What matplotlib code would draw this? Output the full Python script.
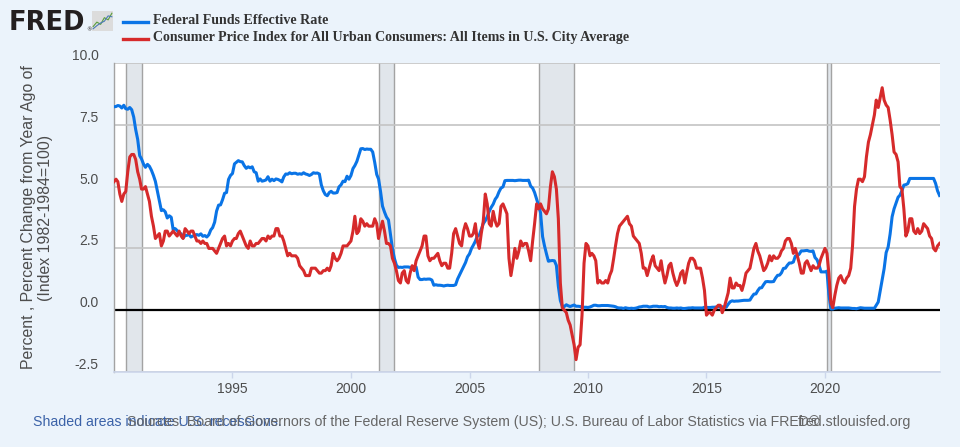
import pandas as pd
import matplotlib.pyplot as plt
from matplotlib.lines import Line2D

# Federal Funds Effective Rate, monthly, Jan 1990 - Nov 2024 (percent)
fedfunds = [
    8.23, 8.24, 8.28, 8.26, 8.18, 8.29, 8.15, 8.13, 8.20, 8.11, 7.81, 7.31,  # 1990
    6.91, 6.25, 6.12, 5.91, 5.78, 5.90, 5.82, 5.66, 5.45, 5.21, 4.81, 4.43,  # 1991
    4.03, 4.06, 3.98, 3.73, 3.82, 3.76, 3.25, 3.30, 3.22, 3.10, 3.09, 2.92,  # 1992
    3.02, 3.03, 3.07, 2.96, 3.00, 3.04, 3.06, 3.03, 3.09, 2.99, 3.02, 2.96,  # 1993
    3.05, 3.25, 3.34, 3.56, 4.01, 4.25, 4.26, 4.47, 4.73, 4.76, 5.29, 5.45,  # 1994
    5.53, 5.92, 5.98, 6.05, 6.01, 6.00, 5.85, 5.74, 5.80, 5.76, 5.80, 5.60,  # 1995
    5.56, 5.22, 5.31, 5.22, 5.24, 5.27, 5.40, 5.22, 5.30, 5.24, 5.31, 5.29,  # 1996
    5.25, 5.19, 5.39, 5.51, 5.50, 5.56, 5.52, 5.54, 5.54, 5.50, 5.52, 5.50,  # 1997
    5.56, 5.51, 5.49, 5.45, 5.49, 5.56, 5.54, 5.55, 5.51, 5.07, 4.83, 4.68,  # 1998
    4.63, 4.76, 4.81, 4.74, 4.74, 4.76, 4.99, 5.07, 5.22, 5.20, 5.42, 5.30,  # 1999
    5.45, 5.73, 5.85, 6.02, 6.27, 6.53, 6.54, 6.50, 6.52, 6.51, 6.51, 6.40,  # 2000
    5.98, 5.49, 5.31, 4.80, 4.21, 3.97, 3.77, 3.65, 3.07, 2.49, 2.09, 1.82,  # 2001
    1.73, 1.74, 1.73, 1.75, 1.75, 1.75, 1.73, 1.74, 1.75, 1.75, 1.34, 1.24,  # 2002
    1.24, 1.26, 1.25, 1.26, 1.26, 1.22, 1.01, 1.03, 1.01, 1.01, 1.00, 0.98,  # 2003
    1.00, 1.01, 1.00, 1.00, 1.00, 1.03, 1.26, 1.43, 1.61, 1.76, 1.93, 2.16,  # 2004
    2.28, 2.50, 2.63, 2.79, 3.00, 3.04, 3.26, 3.50, 3.62, 3.78, 4.00, 4.16,  # 2005
    4.29, 4.49, 4.59, 4.79, 4.94, 4.99, 5.24, 5.25, 5.25, 5.25, 5.25, 5.24,  # 2006
    5.25, 5.26, 5.26, 5.25, 5.25, 5.25, 5.26, 5.02, 4.94, 4.76, 4.49, 4.24,  # 2007
    3.94, 2.98, 2.61, 2.28, 1.98, 2.00, 2.01, 2.00, 1.81, 0.97, 0.39, 0.16,  # 2008
    0.15, 0.22, 0.18, 0.15, 0.18, 0.21, 0.16, 0.16, 0.15, 0.12, 0.12, 0.12,  # 2009
    0.11, 0.13, 0.16, 0.20, 0.20, 0.18, 0.18, 0.19, 0.19, 0.19, 0.19, 0.18,  # 2010
    0.17, 0.16, 0.14, 0.10, 0.09, 0.09, 0.07, 0.10, 0.08, 0.07, 0.08, 0.07,  # 2011
    0.08, 0.10, 0.13, 0.14, 0.16, 0.16, 0.16, 0.13, 0.14, 0.16, 0.16, 0.16,  # 2012
    0.14, 0.15, 0.14, 0.15, 0.11, 0.09, 0.09, 0.08, 0.08, 0.09, 0.08, 0.09,  # 2013
    0.07, 0.07, 0.08, 0.09, 0.09, 0.10, 0.09, 0.09, 0.09, 0.09, 0.09, 0.12,  # 2014
    0.11, 0.11, 0.11, 0.12, 0.12, 0.13, 0.13, 0.14, 0.14, 0.12, 0.12, 0.24,  # 2015
    0.34, 0.38, 0.36, 0.37, 0.37, 0.38, 0.39, 0.40, 0.40, 0.40, 0.41, 0.54,  # 2016
    0.65, 0.66, 0.79, 0.90, 0.91, 1.04, 1.15, 1.16, 1.15, 1.15, 1.16, 1.30,  # 2017
    1.41, 1.42, 1.51, 1.69, 1.70, 1.82, 1.91, 1.91, 1.95, 2.19, 2.20, 2.27,  # 2018
    2.40, 2.40, 2.41, 2.42, 2.39, 2.38, 2.40, 2.13, 2.04, 1.83, 1.55, 1.55,  # 2019
    1.55, 1.58, 0.65, 0.05, 0.05, 0.08, 0.09, 0.10, 0.09, 0.09, 0.09, 0.09,  # 2020
    0.09, 0.08, 0.07, 0.07, 0.06, 0.08, 0.10, 0.09, 0.08, 0.08, 0.08, 0.08,  # 2021
    0.08, 0.08, 0.20, 0.33, 0.77, 1.21, 1.68, 2.33, 2.56, 3.08, 3.78, 4.10,  # 2022
    4.33, 4.57, 4.65, 4.83, 5.06, 5.08, 5.12, 5.33, 5.33, 5.33, 5.33, 5.33,  # 2023
    5.33, 5.33, 5.33, 5.33, 5.33, 5.33, 5.33, 5.33, 5.13, 4.83, 4.64,        # 2024
]

# CPI-U all items, percent change from year ago, monthly
cpi_yoy = [
    5.2, 5.3, 5.2, 4.7, 4.4, 4.7, 4.8, 5.6, 6.2, 6.3, 6.3, 6.1,  # 1990
    5.6, 5.3, 4.9, 4.9, 5.0, 4.7, 4.4, 3.8, 3.4, 2.9, 3.0, 3.1,  # 1991
    2.6, 2.8, 3.2, 3.2, 3.0, 3.1, 3.2, 3.1, 3.0, 3.2, 3.0, 2.9,  # 1992
    3.3, 3.2, 3.1, 3.2, 3.2, 3.0, 2.8, 2.8, 2.7, 2.8, 2.7, 2.7,  # 1993
    2.5, 2.5, 2.5, 2.4, 2.3, 2.5, 2.7, 2.9, 3.0, 2.6, 2.7, 2.6,  # 1994
    2.8, 2.9, 2.9, 3.1, 3.2, 3.0, 2.8, 2.6, 2.5, 2.8, 2.6, 2.6,  # 1995
    2.7, 2.7, 2.8, 2.9, 2.9, 2.8, 3.0, 2.9, 3.0, 3.0, 3.3, 3.3,  # 1996
    3.0, 3.0, 2.8, 2.5, 2.2, 2.3, 2.2, 2.2, 2.2, 2.1, 1.8, 1.7,  # 1997
    1.6, 1.4, 1.4, 1.4, 1.7, 1.7, 1.7, 1.6, 1.5, 1.5, 1.6, 1.6,  # 1998
    1.7, 1.6, 1.8, 2.3, 2.1, 2.0, 2.1, 2.3, 2.6, 2.6, 2.6, 2.7,  # 1999
    2.8, 3.2, 3.8, 3.1, 3.2, 3.7, 3.6, 3.4, 3.5, 3.4, 3.4, 3.4,  # 2000
    3.7, 3.5, 2.9, 3.3, 3.6, 3.2, 2.7, 2.7, 2.6, 2.1, 1.9, 1.6,  # 2001
    1.2, 1.1, 1.5, 1.6, 1.2, 1.1, 1.5, 1.8, 1.6, 2.0, 2.2, 2.4,  # 2002
    2.6, 3.0, 3.0, 2.2, 2.0, 2.1, 2.1, 2.2, 2.3, 2.0, 1.8, 1.9,  # 2003
    1.9, 1.7, 1.7, 2.3, 3.1, 3.3, 3.0, 2.7, 2.6, 3.2, 3.5, 3.3,  # 2004
    3.0, 3.0, 3.1, 3.5, 2.8, 2.5, 3.1, 3.6, 4.7, 4.3, 3.5, 3.4,  # 2005
    4.0, 3.6, 3.4, 3.5, 4.2, 4.3, 4.1, 3.9, 2.1, 1.4, 1.9, 2.5,  # 2006
    2.1, 2.4, 2.8, 2.6, 2.7, 2.7, 2.4, 2.0, 2.8, 3.5, 4.3, 4.1,  # 2007
    4.3, 4.1, 4.0, 3.9, 4.1, 5.0, 5.6, 5.4, 4.9, 3.7, 1.1, 0.1,  # 2008
    -0.0, -0.1, -0.4, -0.6, -1.0, -1.4, -2.0, -1.5, -1.4, -0.2, 1.9, 2.7,  # 2009
    2.6, 2.2, 2.3, 2.2, 2.0, 1.1, 1.2, 1.1, 1.1, 1.2, 1.1, 1.4,  # 2010
    1.6, 2.1, 2.6, 3.1, 3.4, 3.5, 3.6, 3.7, 3.8, 3.5, 3.4, 3.0,  # 2011
    2.9, 2.8, 2.7, 2.3, 1.7, 1.7, 1.4, 1.7, 2.0, 2.2, 1.8, 1.7,  # 2012
    1.6, 2.0, 1.5, 1.1, 1.4, 1.8, 1.9, 1.5, 1.2, 1.0, 1.2, 1.5,  # 2013
    1.6, 1.1, 1.5, 1.9, 2.1, 2.1, 2.0, 1.7, 1.7, 1.7, 1.3, 0.8,  # 2014
    -0.2, -0.1, -0.1, -0.2, 0.0, 0.1, 0.2, 0.2, -0.1, 0.1, 0.4, 0.7,  # 2015
    1.3, 0.9, 0.9, 1.1, 1.0, 1.0, 0.8, 1.1, 1.5, 1.6, 1.7, 2.1,  # 2016
    2.5, 2.7, 2.4, 2.2, 1.9, 1.6, 1.7, 1.9, 2.2, 2.0, 2.2, 2.1,  # 2017
    2.1, 2.2, 2.4, 2.5, 2.8, 2.9, 2.9, 2.7, 2.3, 2.5, 2.2, 1.9,  # 2018
    1.5, 1.5, 1.9, 2.0, 1.8, 1.6, 1.8, 1.7, 1.7, 1.8, 2.1, 2.3,  # 2019
    2.5, 2.3, 1.5, 0.3, 0.1, 0.6, 1.0, 1.3, 1.4, 1.2, 1.1, 1.3,  # 2020
    1.4, 1.7, 2.6, 4.2, 4.9, 5.3, 5.3, 5.2, 5.4, 6.2, 6.8, 7.1,  # 2021
    7.5, 7.9, 8.5, 8.2, 8.6, 9.0, 8.5, 8.3, 8.2, 7.7, 7.1, 6.4,  # 2022
    6.3, 6.0, 5.0, 4.9, 4.1, 3.0, 3.2, 3.7, 3.7, 3.2, 3.1, 3.3,  # 2023
    3.1, 3.2, 3.5, 3.4, 3.3, 3.0, 2.9, 2.5, 2.4, 2.6, 2.7,       # 2024
]

recessions = [("1990-07-01", "1991-03-01"), ("2001-03-01", "2001-11-01"),
              ("2007-12-01", "2009-06-01"), ("2020-02-01", "2020-04-01")]
yticks = [-2.5, 0.0, 2.5, 5.0, 7.5, 10.0]
xtick_years = [1995, 2000, 2005, 2010, 2015, 2020]

dates = pd.date_range("1990-01-01", periods=len(fedfunds), freq="MS")

BG = "#ebf3fb"
W, H = 960, 447
fig = plt.figure(figsize=(W / 100, H / 100), dpi=100, facecolor=BG)
ax = fig.add_axes([114 / W, 1 - 372 / H, 826 / W, 309 / H], facecolor="white")

# recession shading
for start, end in recessions:
    s, e = pd.Timestamp(start), pd.Timestamp(end)
    ax.axvspan(s, e, facecolor="#e1e6eb", edgecolor="none", zorder=0)
    for d in (s, e):
        ax.axvline(d, color="#a3a3a3", lw=1.0, zorder=0.5)

for y in yticks:
    ax.axhline(y, color="#c4c4c4", lw=1.2, zorder=1)
ax.axhline(0, color="black", lw=1.6, zorder=2)

ax.plot(dates, fedfunds, color="#0a74e6", lw=2.2, zorder=3, solid_joinstyle="round")
ax.plot(dates, cpi_yoy, color="#d62a2b", lw=2.2, zorder=4, solid_joinstyle="round")

ax.set_xlim(pd.Timestamp("1990-01-01"), pd.Timestamp("2024-11-08"))
ax.set_ylim(-2.5, 10.0)

ax.set_yticks(yticks)
ax.set_yticklabels([f"{v:.1f}" for v in yticks])
ax.set_xticks([pd.Timestamp(f"{y}-01-01") for y in xtick_years])
ax.set_xticklabels([str(y) for y in xtick_years])
ax.tick_params(axis="y", length=0, pad=11, labelsize=10, labelcolor="#4d4d4d")
ax.tick_params(axis="x", length=4, width=1, color="#ccd6eb", pad=3,
               labelsize=10, labelcolor="#4d4d4d")
for lab in ax.get_yticklabels():
    lab.set_verticalalignment("bottom")
    lab.set_fontfamily("Liberation Sans")
for lab in ax.get_xticklabels():
    lab.set_fontfamily("Liberation Sans")

for side in ("top", "right"):
    ax.spines[side].set_visible(False)
ax.spines["left"].set_color("#a3a3a3")
ax.spines["left"].set_linewidth(1.0)
ax.spines["bottom"].set_color("#ccd6eb")
ax.spines["bottom"].set_linewidth(1.2)

fig.text(37 / W, 1 - 217.5 / H,
         "Percent , Percent Change from Year Ago of\n(Index 1982-1984=100)",
         rotation=90, ha="center", va="center", multialignment="center",
         fontsize=11.4, color="#4d4d4d", family="Liberation Sans", linespacing=1.2)

# FRED logo
fig.text(9 / W, 1 - 23 / H, "FRED", fontsize=18.5, fontweight="bold",
         color="#231f20", family="DejaVu Sans", va="center", ha="left")
fig.text(86 / W, 1 - 30 / H, "®", fontsize=4, color="#231f20", va="center")
icon = fig.add_axes([92 / W, 1 - 31 / H, 21 / W, 20 / H], facecolor="#dcdcdc")
icon.plot([0, 1, 2, 3, 4, 5], [1, 2, 1.5, 3, 2.5, 4], color="#5a9e3c", lw=0.8)
icon.plot([0, 1, 2, 3, 4, 5], [0.5, 1.2, 1.8, 2.2, 3.4, 3.2], color="#4a7ab5", lw=0.8)
icon.set_xlim(-0.3, 5.3)
icon.set_ylim(0, 4.5)
icon.set_xticks([])
icon.set_yticks([])
for sp in icon.spines.values():
    sp.set_visible(False)

# legend
legend_items = [("Federal Funds Effective Rate", "#0a74e6", 21.5),
                ("Consumer Price Index for All Urban Consumers: All Items in U.S. City Average",
                 "#d62a2b", 38.5)]
for label, color, ypix in legend_items:
    fig.add_artist(Line2D([123 / W, 148 / W], [1 - ypix / H, 1 - ypix / H],
                          color=color, lw=2.4, transform=fig.transFigure))
    fig.text(153 / W, 1 - (ypix - 0.5) / H, label, fontsize=10.1, fontweight="bold",
             color="#333333", family="Liberation Serif", va="center", ha="left")

# footer (texts overlap in the original FRED export as well)
fig.text(33 / W, 1 - 422 / H, "Shaded areas indicate U.S. recessions.",
         fontsize=10.2, color="#3b62a8", family="Liberation Sans", va="center")
fig.text(127 / W, 1 - 422 / H,
         "Sources: Board of Governors of the Federal Reserve System (US); "
         "U.S. Bureau of Labor Statistics via FRED®",
         fontsize=10.2, color="#666666", family="Liberation Sans", va="center")
fig.text(911.5 / W, 1 - 422 / H, "fred.stlouisfed.org", fontsize=10.2,
         color="#666666", family="Liberation Sans", va="center", ha="right")

fig.savefig("out.png", dpi=100, facecolor=BG)
